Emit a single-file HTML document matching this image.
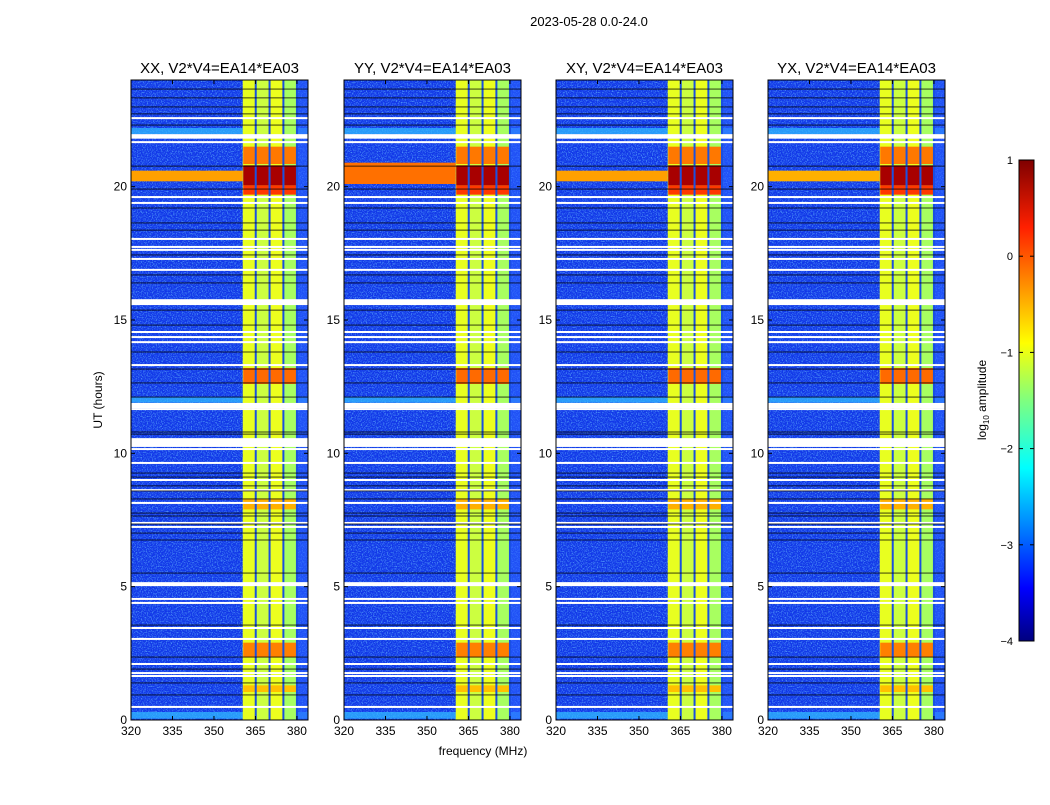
<!DOCTYPE html>
<html><head><meta charset="utf-8">
<style>
html,body{margin:0;padding:0;background:#fff;}
svg text{font-family:"Liberation Sans",sans-serif;fill:#000;}
</style></head>
<body>
<svg id="fig" width="1050" height="800" xmlns="http://www.w3.org/2000/svg">
<defs>
<filter id="noise" x="0" y="0" width="100%" height="100%">
<feTurbulence type="fractalNoise" baseFrequency="0.8" numOctaves="2" seed="3" result="t"/>
<feColorMatrix type="matrix" values="0 0 0 0 0.15  0 0 0 0 0.55  0 0 0 0 1  0 0 0 3 -1.4"/>
</filter>
<linearGradient id="jet" x1="0" y1="1" x2="0" y2="0">
<stop offset="0" stop-color="#00007f"/><stop offset="0.11" stop-color="#0000ff"/>
<stop offset="0.36" stop-color="#00ffff"/><stop offset="0.5" stop-color="#7fff7f"/>
<stop offset="0.62" stop-color="#ffff00"/><stop offset="0.86" stop-color="#ff2000"/>
<stop offset="1" stop-color="#7f0000"/>
</linearGradient>
</defs>
<text x="589" y="26" font-size="13" text-anchor="middle">2023-05-28 0.0-24.0</text>
<text x="483" y="755" font-size="12" text-anchor="middle">frequency (MHz)</text>
<text transform="translate(102,400) rotate(-90)" font-size="12" text-anchor="middle">UT (hours)</text>
<g id="panels"></g>
<g id="cbar">
<rect x="1019" y="160" width="15" height="481" fill="url(#jet)" stroke="#000" stroke-width="1"/>
<text transform="translate(986,400) rotate(-90)" font-size="12" text-anchor="middle">log<tspan font-size="8" dy="3">10</tspan><tspan dy="-3"> amplitude</tspan></text>
</g>
</svg>
<script>
const titles = ["XX, V2*V4=EA14*EA03","YY, V2*V4=EA14*EA03","XY, V2*V4=EA14*EA03","YX, V2*V4=EA14*EA03"];
const xTicks = [320,335,350,365,380];
const yTicks = [0,5,10,15,20];
const cbarTicks = [1,0,-1,-2,-3,-4];
const whiteLines = [22.57,21.67,19.61,19.39,18.04,17.74,17.63,17.29,16.88,14.55,14.36,14.17,13.31,11.66,10.16,9.64,9.0,8.62,8.14,7.39,7.24,4.54,4.39,3.45,3.04,2.1,1.76,1.65,0.49];
const whiteBands = [[21.8,21.97],[15.56,15.78],[10.24,10.57],[5.02,5.17],[11.7,11.89]];
const blackLines = [23.66,23.33,22.99,22.73,22.31,20.77,19.91,19.2,18.64,18.37,17.44,16.69,16.39,15.37,14.81,13.8,13.16,12.64,12.11,10.8,10.72,9.26,9.11,8.78,8.59,8.29,7.76,7.65,7.35,7.01,6.75,5.51,3.56,2.36,1.91,1.39,0.94];
const channelStarts = [360.4,365.2,370.2,375.2];
const channelEnds = [365.0,370.0,375.0,380.0];
const dividers = [365.1,370.1,375.1,380.0];
const channelColors = ["#e8ff20","#ccff40","#ecff1e","#a8ff60"];
const burstStart = [19.7,20.05,20.85,12.6,2.35,7.9,1.05];
const burstEnd = [20.05,20.8,21.5,13.2,2.9,8.3,1.3];
const burstColor = ["#ff3800","#a80000","#ff7800","#ff6a00","#ff8000","#ffb000","#ffc000"];
const hBandStart = [20.2,20.1,20.2,20.2];
const hBandEnd = [20.6,20.9,20.6,20.6];
const hBandColor = ["#ffa000","#ff7000","#ffa000","#ffb000"];
const cyanStart = [21.97,11.9,0.05];
const cyanEnd = [22.2,12.1,0.3];

const NS="http://www.w3.org/2000/svg";
const panelX=[131,344,556,768], PW=177, PT=80, PB=720;
const fMin=320,fMax=384,hMin=0,hMax=24;
function el(t,a,p){const e=document.createElementNS(NS,t);for(const k in a)e.setAttribute(k,a[k]);p.appendChild(e);return e;}
const root=document.getElementById('panels');
titles.forEach((title,pi)=>{
  const x0=panelX[pi];
  const xs=f=>x0+(f-fMin)/(fMax-fMin)*PW;
  const ys=h=>PB-(h-hMin)/(hMax-hMin)*(PB-PT);
  const g=el('g',{},root);
  
  
  const bg=el('rect',{x:x0,y:PT,width:PW,height:PB-PT,fill:'#1238e8'},g);
  
  
  el('rect',{x:x0,y:PT,width:PW,height:PB-PT,fill:'#fff',filter:'url(#noise)',opacity:0.7},g);
  for(let i=0;i<cyanStart.length;i++){
    const r=el('rect',{x:x0,y:ys(cyanEnd[i]),width:PW,height:ys(cyanStart[i])-ys(cyanEnd[i]),fill:'#30b8ff',opacity:0.75},g);
    
    
  }
  const hb=el('rect',{x:x0,y:ys(hBandEnd[pi]),width:xs(360.4)-x0,height:ys(hBandStart[pi])-ys(hBandEnd[pi]),fill:hBandColor[pi]},g);
  
  
  const edge=el('rect',{x:xs(380),y:PT,width:xs(fMax)-xs(380),height:PB-PT,fill:'#2a60ff',opacity:0.6},g);
  
  
  for(let c=0;c<channelStarts.length;c++){
    const r=el('rect',{x:xs(channelStarts[c]),y:PT,width:xs(channelEnds[c])-xs(channelStarts[c]),height:PB-PT,fill:channelColors[c]},g);
    
    
    for(let b=0;b<burstStart.length;b++){
      const br=el('rect',{x:xs(channelStarts[c])+0.5,y:ys(burstEnd[b]),width:xs(channelEnds[c])-xs(channelStarts[c])-1,height:ys(burstStart[b])-ys(burstEnd[b]),fill:burstColor[b]},g);
      
      
    }
  }
  dividers.forEach(f=>{
    const r=el('rect',{x:xs(f)-1,y:PT,width:2,height:PB-PT,fill:'#1a50e0'},g);
    
    
  });
  whiteLines.forEach(h=>{
    const r=el('rect',{x:x0,y:ys(h)-1,width:PW,height:2,fill:'#fff'},g);
    
    
  });
  whiteBands.forEach(b=>{
    const r=el('rect',{x:x0,y:ys(b[1]),width:PW,height:ys(b[0])-ys(b[1]),fill:'#fff'},g);
    
    
  });
  blackLines.forEach(h=>{
    const r=el('rect',{x:x0,y:ys(h)-0.5,width:PW,height:1,fill:'#000',opacity:0.75},g);
    
    
  });
  const fr=el('rect',{x:x0,y:PT,width:PW,height:PB-PT,fill:'none',stroke:'#000','stroke-width':1},g);
  
  
  const t=el('text',{x:x0+PW/2,y:PT-7,'font-size':15,'text-anchor':'middle'},g);
  t.textContent=title;
  
  
  xTicks.forEach(v=>{
    const x=xs(v);
    el('line',{x1:x,x2:x,y1:PB,y2:PB-4,stroke:'#000'},g);
    el('line',{x1:x,x2:x,y1:PT,y2:PT+4,stroke:'#000'},g);
    const l=el('text',{x:x,y:PB+15,'font-size':12,'text-anchor':'middle'},g);
    l.textContent=v;
    
    
  });
  yTicks.forEach(v=>{
    const y=ys(v);
    el('line',{x1:x0,x2:x0+4,y1:y,y2:y,stroke:'#000'},g);
    el('line',{x1:x0+PW,x2:x0+PW-4,y1:y,y2:y,stroke:'#000'},g);
    const l=el('text',{x:x0-4,y:y+4,'font-size':12,'text-anchor':'end'},g);
    l.textContent=v;
    
    
  });
});
const cb=document.getElementById('cbar');
cbarTicks.forEach(v=>{
  const y=641-(v+4)/5*481;
  el('line',{x1:1019,x2:1023,y1:y,y2:y,stroke:'#000'},cb);
  el('line',{x1:1034,x2:1030,y1:y,y2:y,stroke:'#000'},cb);
  const l=el('text',{x:1013,y:y+4,'font-size':11,'text-anchor':'end'},cb);
  l.textContent=v<0?'\u2212'+(-v):String(v);
  
  
});
</script>
</body></html>
